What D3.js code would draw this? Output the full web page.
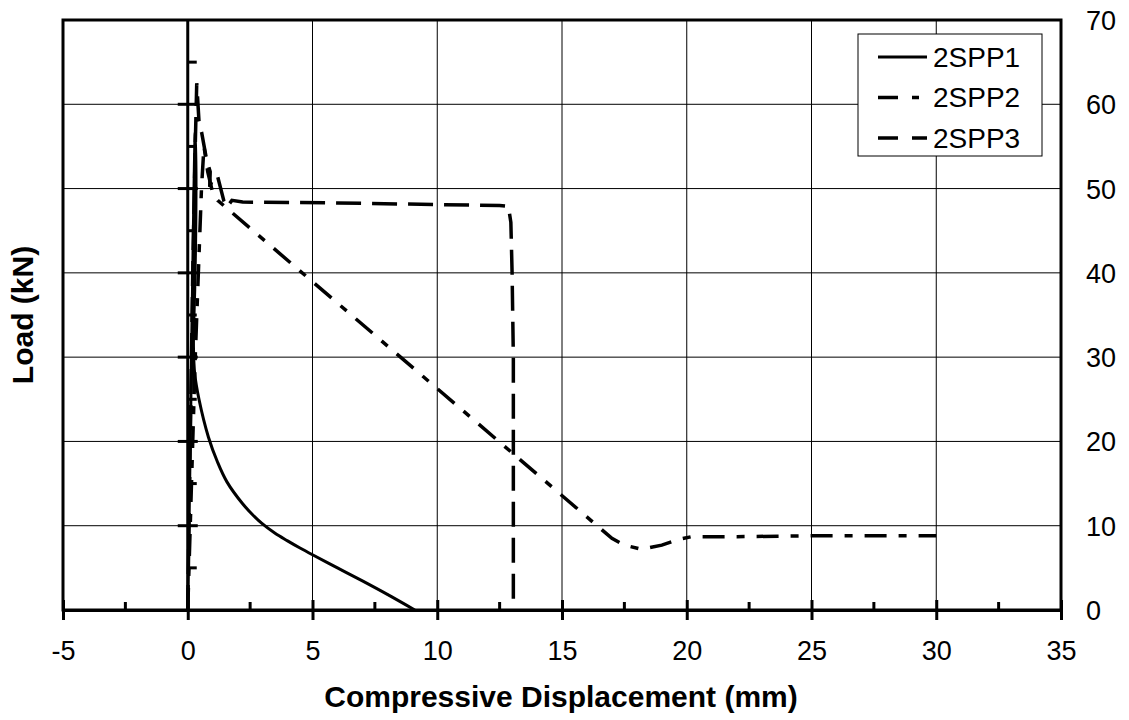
<!DOCTYPE html>
<html>
<head>
<meta charset="utf-8">
<script src="https://cdn.jsdelivr.net/npm/d3@7"></script>
<style>
  body { margin: 0; background: #fff; }
  text { font-family: Arial, "Liberation Sans", sans-serif; }
</style>
</head>
<body>
<script>
/* chart data */
var xTicks = [-5, 0, 5, 10, 15, 20, 25, 30, 35];
var yTicks = [0, 10, 20, 30, 40, 50, 60, 70];
var seriesNames = ["2SPP1", "2SPP2", "2SPP3"];

// 2SPP1 : solid
var spp1X = [0, 0.05, 0.1, 0.15, 0.2, 0.25, 0.3, 0.33, 0.32, 0.28, 0.24, 0.23, 0.28, 0.45, 0.83, 1.2, 1.57, 2.2, 2.6, 2.96, 3.5, 4.0, 4.5, 5, 6, 7, 8, 9.1];
var spp1Y = [0, 10, 20, 30, 40, 50, 56.7, 52, 45, 38, 34, 31, 28, 25, 20.5, 17.5, 15.2, 12.6, 11.3, 10.3, 9.1, 8.2, 7.35, 6.55, 5.0, 3.45, 1.85, 0];

// 2SPP2 : dash-dot
var spp2X = [0, 0.15, 0.3, 0.45, 0.55, 0.65, 0.8, 1.0, 1.2, 17, 17.5, 18.2, 19, 19.7, 20.2, 22, 25, 30];
var spp2Y = [0, 15, 30, 42, 50, 55, 52, 49.5, 48.6, 8.5, 7.7, 7.2, 7.7, 8.4, 8.7, 8.7, 8.8, 8.8];

// 2SPP3 : dashed
var spp3X = [0, 0.1, 0.2, 0.3, 0.36, 0.45, 0.56, 0.75, 0.9, 0.88, 1.05, 1.2, 1.45, 1.57, 1.77, 2.2, 6, 10, 12.5, 12.85, 12.95, 13.0, 13.05, 13.05];
var spp3Y = [0, 20, 40, 55, 62.5, 58, 56.6, 53.5, 52, 50.2, 51.5, 51.4, 48.5, 47.8, 48.6, 48.4, 48.3, 48.1, 48.0, 47.9, 46, 40, 30, 0];

var width = 1129, height = 720;
var pLeft = 63, pRight = 1061, pTop = 20, pBottom = 610;

var svg = d3.select("body").append("svg")
    .attr("width", width)
    .attr("height", height);

var x = d3.scaleLinear().domain([-5, 35]).range([pLeft, pRight]);
var y = d3.scaleLinear().domain([0, 70]).range([pBottom, pTop]);

/* grid lines */
svg.append("g").selectAll("line").data(xTicks.slice(1, -1)).enter().append("line")
    .attr("x1", function(d) { return x(d); }).attr("x2", function(d) { return x(d); })
    .attr("y1", pTop).attr("y2", pBottom)
    .attr("stroke", "#000").attr("stroke-width", 1);
svg.append("g").selectAll("line").data(yTicks.slice(1, -1)).enter().append("line")
    .attr("x1", pLeft).attr("x2", pRight)
    .attr("y1", function(d) { return y(d); }).attr("y2", function(d) { return y(d); })
    .attr("stroke", "#000").attr("stroke-width", 1);

/* frame */
svg.append("rect")
    .attr("x", pLeft).attr("y", pTop)
    .attr("width", pRight - pLeft).attr("height", pBottom - pTop)
    .attr("fill", "none").attr("stroke", "#000").attr("stroke-width", 3);

/* x axis at y=0 */
var xAxis = d3.axisBottom(x).tickValues(xTicks).tickSize(10).tickPadding(21)
    .tickFormat(function(d) { return String(d); });
var gx = svg.append("g").attr("transform", "translate(0," + y(0) + ")").call(xAxis);
gx.select(".domain").attr("stroke-width", 3);
gx.selectAll(".tick line").attr("y1", -10).attr("stroke-width", 3);
gx.selectAll(".tick text").attr("font-size", 27).attr("font-family", "Arial, 'Liberation Sans', sans-serif").attr("fill", "#000");
// minor ticks
svg.append("g").selectAll("line").data(d3.range(-2.5, 35, 5)).enter().append("line")
    .attr("x1", function(d) { return x(d); }).attr("x2", function(d) { return x(d); })
    .attr("y1", y(0) - 8).attr("y2", y(0))
    .attr("stroke", "#000").attr("stroke-width", 3);

/* y axis drawn at x=0 */
svg.append("line")
    .attr("x1", x(0)).attr("x2", x(0)).attr("y1", pTop).attr("y2", pBottom)
    .attr("stroke", "#000").attr("stroke-width", 3);
svg.append("g").selectAll("line").data(yTicks.slice(1, -1)).enter().append("line")
    .attr("x1", x(0) - 10).attr("x2", x(0) + 10)
    .attr("y1", function(d) { return y(d); }).attr("y2", function(d) { return y(d); })
    .attr("stroke", "#000").attr("stroke-width", 3);
svg.append("g").selectAll("line").data(d3.range(5, 70, 10)).enter().append("line")
    .attr("x1", x(0)).attr("x2", x(0) + 9)
    .attr("y1", function(d) { return y(d); }).attr("y2", function(d) { return y(d); })
    .attr("stroke", "#000").attr("stroke-width", 3);

/* y tick labels on the right */
svg.append("g").selectAll("text").data(yTicks).enter().append("text")
    .attr("x", pRight + 25)
    .attr("y", function(d) { return y(d) + 10; })
    .attr("font-size", 27)
    .attr("fill", "#000")
    .text(function(d) { return d; });

/* axis titles */
svg.append("text")
    .attr("x", 561).attr("y", 707)
    .attr("text-anchor", "middle")
    .attr("font-size", 30).attr("font-weight", "bold")
    .text("Compressive Displacement (mm)");
svg.append("text")
    .attr("transform", "translate(33,315) rotate(-90)")
    .attr("text-anchor", "middle")
    .attr("font-size", 30).attr("font-weight", "bold")
    .text("Load (kN)");

/* series */
function pts(xs, ys) { return xs.map(function(d, i) { return [d, ys[i]]; }); }
var line = d3.line().x(function(d) { return x(d[0]); }).y(function(d) { return y(d[1]); });
var smooth = d3.line().curve(d3.curveCatmullRom).x(function(d) { return x(d[0]); }).y(function(d) { return y(d[1]); });

var styles = [
    { dash: null, w: 3 },
    { dash: "22,12,8,12", w: 3.5 },
    { dash: "25,11", w: 3.5 }
];

svg.append("path").datum(pts(spp2X, spp2Y))
    .attr("d", line).attr("fill", "none").attr("stroke", "#000")
    .attr("stroke-width", styles[1].w).attr("stroke-dasharray", styles[1].dash);
svg.append("path").datum(pts(spp3X, spp3Y))
    .attr("d", line).attr("fill", "none").attr("stroke", "#000")
    .attr("stroke-width", styles[2].w).attr("stroke-dasharray", styles[2].dash);
svg.append("path").datum(pts(spp1X, spp1Y))
    .attr("d", smooth).attr("fill", "none").attr("stroke", "#000")
    .attr("stroke-width", styles[0].w);

/* legend */
var legend = svg.append("g");
legend.append("rect")
    .attr("x", 858).attr("y", 34).attr("width", 184).attr("height", 122)
    .attr("fill", "#fff").attr("stroke", "#000").attr("stroke-width", 1);
seriesNames.forEach(function(name, i) {
    var ly = 57 + i * 40.5;
    legend.append("line")
        .attr("x1", 878).attr("x2", 927).attr("y1", ly).attr("y2", ly)
        .attr("stroke", "#000").attr("stroke-width", styles[i].w)
        .attr("stroke-dasharray", i == 0 ? null : (i == 1 ? "20,14,7,20" : "20,14,15,20"));
    legend.append("text")
        .attr("x", 933).attr("y", ly + 9.5)
        .attr("font-size", 28).attr("fill", "#000")
        .text(name);
});
</script>
</body>
</html>
